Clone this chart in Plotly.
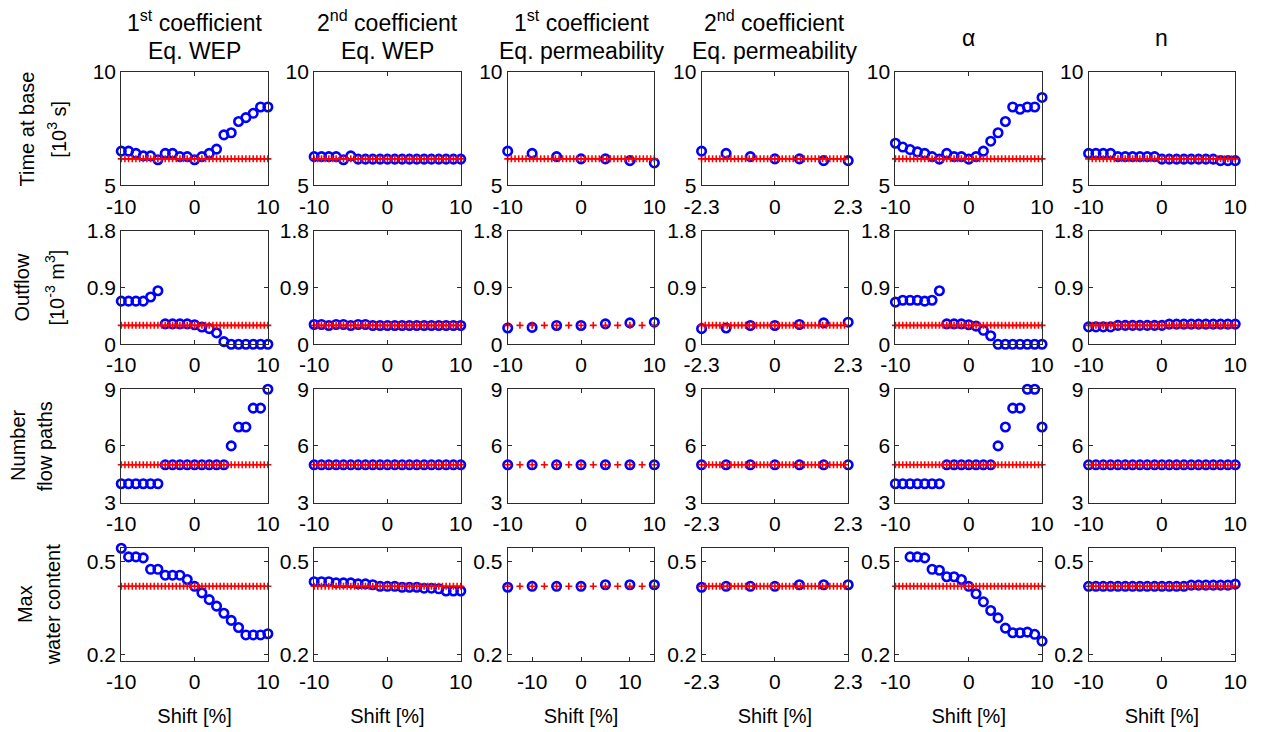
import plotly.graph_objects as go

W, H = 1277, 732
FONT = "Liberation Sans, Arial, Helvetica, sans-serif"

# ---- column / row labels -------------------------------------------------
col_titles = [
    ["1<sup>st</sup> coefficient", "Eq. WEP"],
    ["2<sup>nd</sup> coefficient", "Eq. WEP"],
    ["1<sup>st</sup> coefficient", "Eq. permeability"],
    ["2<sup>nd</sup> coefficient", "Eq. permeability"],
    ["α"],
    ["n"],
]
row_titles = [
    ["Time at base", "[10<sup>3</sup> s]"],
    ["Outflow", "[10<sup>-3</sup> m<sup>3</sup>]"],
    ["Number", "flow paths"],
    ["Max", "water content"],
]
# horizontal centre (px) of the two lines of each row label
row_title_x = [[27, 58], [22, 56], [18, 46], [25, 54]]
x_title = "Shift [%]"

# ---- y axes per row -------------------------------------------------------
y_ranges = [[5, 10], [0, 1.8], [3, 9], [0.18, 0.546]]
y_ticks = [[5, 10], [0, 0.9, 1.8], [3, 6, 9], [0.2, 0.5]]
y_ticktext = [["5", "10"], ["0", "0.9", "1.8"], ["3", "6", "9"], ["0.2", "0.5"]]

# reference (unshifted) value of each output, drawn in red
baseline = [6.17, 0.30, 5, 0.421]

# ---- x axes --------------------------------------------------------------
shift_pct = [-10, -9, -8, -7, -6, -5, -4, -3, -2, -1, 0,
             1, 2, 3, 4, 5, 6, 7, 8, 9, 10]
shift_perm1 = [-10, -6.67, -3.33, 0, 3.33, 6.67, 10]
shift_perm1_wide = [-15, -10, -5, 0, 5, 10, 15]
shift_perm2 = [-2.3, -1.53, -0.77, 0, 0.77, 1.53, 2.3]

ref_x_fine = [-10 + 0.5 * i for i in range(41)]
ref_x_perm1 = [-10, -8.33, -6.67, -5, -3.33, -1.67, 0,
               1.67, 3.33, 5, 6.67, 8.33, 10]
ref_x_perm1_wide = [-15, -12.5, -10, -7.5, -5, -2.5, 0,
                    2.5, 5, 7.5, 10, 12.5, 15]
ref_x_perm2 = [-2.3 + 0.115 * i for i in range(41)]

x_ticks_std = [-10, 0, 10]
x_ticktext_std = ["-10", "0", "10"]
x_ticks_perm2 = [-2.3, 0, 2.3]
x_ticktext_perm2 = ["-2.3", "0", "2.3"]

# ---- results: time at base [10^3 s] -------------------------------------
time_wep1 = [6.51, 6.51, 6.41, 6.30, 6.30, 6.13, 6.41, 6.41, 6.27, 6.27, 6.13,
             6.27, 6.41, 6.60, 7.23, 7.32, 7.82, 7.99, 8.18, 8.46, 8.46]
time_wep2 = [6.27, 6.27, 6.27, 6.27, 6.13, 6.30, 6.16, 6.16, 6.16, 6.16, 6.16,
             6.16, 6.16, 6.16, 6.16, 6.16, 6.16, 6.16, 6.16, 6.16, 6.16]
time_perm1 = [6.51, 6.41, 6.27, 6.17, 6.17, 6.09, 5.99]
time_perm2 = [6.51, 6.41, 6.27, 6.17, 6.17, 6.09, 6.09]
time_alpha = [6.86, 6.69, 6.58, 6.48, 6.41, 6.27, 6.16, 6.41, 6.27, 6.27, 6.16,
              6.27, 6.51, 6.95, 7.32, 7.82, 8.46, 8.36, 8.46, 8.46, 8.88]
time_n = [6.41, 6.41, 6.41, 6.41, 6.27, 6.27, 6.27, 6.27, 6.27, 6.27, 6.16,
          6.16, 6.16, 6.16, 6.16, 6.16, 6.16, 6.16, 6.09, 6.09, 6.09]

# ---- results: outflow [10^-3 m^3] ---------------------------------------
out_wep1 = [0.684, 0.684, 0.684, 0.684, 0.75, 0.849, 0.324, 0.324, 0.324, 0.324,
            0.309, 0.273, 0.247, 0.18, 0.041, 0.0, 0.0, 0.0, 0.0, 0.0, 0.0]
out_wep2 = [0.314, 0.314, 0.298, 0.314, 0.314, 0.298, 0.314, 0.314, 0.298, 0.298,
            0.298, 0.298, 0.298, 0.298, 0.298, 0.298, 0.298, 0.298, 0.298, 0.298, 0.298]
out_perm1 = [0.257, 0.267, 0.298, 0.298, 0.324, 0.339, 0.35]
out_perm2 = [0.247, 0.257, 0.298, 0.298, 0.314, 0.339, 0.35]
out_alpha = [0.669, 0.699, 0.699, 0.699, 0.684, 0.699, 0.849, 0.324, 0.324, 0.324,
             0.309, 0.288, 0.221, 0.134, 0.0, 0.0, 0.0, 0.0, 0.0, 0.0, 0.0]
out_n = [0.275, 0.275, 0.275, 0.275, 0.30, 0.30, 0.30, 0.30, 0.30, 0.30, 0.30,
         0.32, 0.32, 0.32, 0.32, 0.32, 0.32, 0.32, 0.32, 0.32, 0.32]

# ---- results: number of flow paths --------------------------------------
paths_wep1 = [4, 4, 4, 4, 4, 4, 5, 5, 5, 5, 5, 5, 5, 5, 5, 6, 7, 7, 8, 8, 9]
paths_wep2 = [5] * 21
paths_perm1 = [5, 5, 5, 5, 5, 5, 5]
paths_perm2 = [5, 5, 5, 5, 5, 5, 5]
paths_alpha = [4, 4, 4, 4, 4, 4, 4, 5, 5, 5, 5, 5, 5, 5, 6, 7, 8, 8, 9, 9, 7]
paths_n = [5] * 21

# ---- results: max water content -----------------------------------------
wc_wep1 = [0.544, 0.516, 0.516, 0.513, 0.476, 0.476, 0.457, 0.457, 0.457, 0.443,
           0.421, 0.40, 0.378, 0.357, 0.334, 0.311, 0.288, 0.264, 0.264, 0.264, 0.268]
wc_wep2 = [0.436, 0.436, 0.436, 0.432, 0.432, 0.432, 0.429, 0.429, 0.426, 0.421,
           0.421, 0.421, 0.418, 0.418, 0.418, 0.415, 0.415, 0.413, 0.406, 0.406, 0.406]
wc_perm1 = [0.418, 0.421, 0.421, 0.421, 0.426, 0.426, 0.426]
wc_perm2 = [0.418, 0.421, 0.421, 0.421, 0.426, 0.426, 0.426]
wc_alpha = [None, None, 0.516, 0.516, 0.513, 0.476, 0.473, 0.452, 0.452, 0.443,
            0.421, 0.397, 0.371, 0.343, 0.319, 0.286, 0.271, 0.271, 0.273, 0.266, 0.244]
wc_n = [0.421, 0.421, 0.421, 0.421, 0.421, 0.421, 0.421, 0.421, 0.421, 0.421, 0.421,
        0.421, 0.421, 0.421, 0.425, 0.425, 0.425, 0.425, 0.425, 0.425, 0.428]

results = [
    [time_wep1, time_wep2, time_perm1, time_perm2, time_alpha, time_n],
    [out_wep1, out_wep2, out_perm1, out_perm2, out_alpha, out_n],
    [paths_wep1, paths_wep2, paths_perm1, paths_perm2, paths_alpha, paths_n],
    [wc_wep1, wc_wep2, wc_perm1, wc_perm2, wc_alpha, wc_n],
]


def panel_x(r, c):
    """Shift values, reference x-grid, axis range and ticks for a panel."""
    if c == 2:
        if r == 3:
            return (shift_perm1_wide, ref_x_perm1_wide, [-15, 15],
                    x_ticks_std, x_ticktext_std)
        ref = ref_x_fine if r == 0 else ref_x_perm1
        return shift_perm1, ref, [-10, 10], x_ticks_std, x_ticktext_std
    if c == 3:
        return (shift_perm2, ref_x_perm2, [-2.3, 2.3],
                x_ticks_perm2, x_ticktext_perm2)
    return shift_pct, ref_x_fine, [-10, 10], x_ticks_std, x_ticktext_std


# ---- panel geometry (pixels) ---------------------------------------------
col_left = [106, 304, 502.7, 701.7, 900.7, 1099]
panel_w = 150.5
row_top = [62, 226, 389.5, 553]
panel_h = 117

AX_COLOR = "#2b2b2b"
fig = go.Figure()
layout = dict(
    width=W, height=H,
    margin=dict(l=0, r=0, t=0, b=0),
    paper_bgcolor="white", plot_bgcolor="white",
    showlegend=False,
    font=dict(family=FONT, size=20, color="black"),
)

for r in range(4):
    for c in range(6):
        k = r * 6 + c + 1
        xs, ref_x, xr, xt, xtt = panel_x(r, c)
        xa = "x" if k == 1 else f"x{k}"
        ya = "y" if k == 1 else f"y{k}"

        fig.add_trace(go.Scatter(
            x=xs, y=results[r][c], xaxis=xa, yaxis=ya, mode="markers",
            marker=dict(symbol="circle-open", size=8.5, color="#0000ff",
                        line=dict(width=2.6, color="#0000ff")),
            cliponaxis=False,
        ))
        fig.add_trace(go.Scatter(
            x=ref_x, y=[baseline[r]] * len(ref_x), xaxis=xa, yaxis=ya,
            mode="markers",
            marker=dict(symbol="cross-thin-open", size=5, color="#ff0000",
                        line=dict(width=1.6, color="#ff0000")),
            cliponaxis=False,
        ))

        x0 = col_left[c] / W
        x1 = (col_left[c] + panel_w) / W
        y1 = 1 - row_top[r] / H
        y0 = 1 - (row_top[r] + panel_h) / H
        common = dict(showline=True, linecolor=AX_COLOR, linewidth=1,
                      mirror="ticks", ticks="inside", ticklen=4,
                      tickcolor=AX_COLOR, showgrid=False, zeroline=False,
                      tickfont=dict(family=FONT, size=21, color="black"),
                      fixedrange=True)
        xaxis = dict(domain=[x0, x1], anchor=ya, range=xr,
                     tickmode="array", tickvals=xt, ticktext=xtt,
                     ticklabelstandoff=2, **common)
        if r == 3:
            xaxis["title"] = dict(text=x_title,
                                  font=dict(family=FONT, size=20), standoff=16)
        layout["xaxis" if k == 1 else f"xaxis{k}"] = xaxis
        layout["yaxis" if k == 1 else f"yaxis{k}"] = dict(
            domain=[y0, y1], anchor=xa, range=y_ranges[r],
            tickmode="array", tickvals=y_ticks[r], ticktext=y_ticktext[r],
            **common)

annotations = []
for c, lines in enumerate(col_titles):
    cx = (col_left[c] + panel_w / 2) / W
    ys = [9, 40] if len(lines) == 2 else [27]
    for txt, ypx in zip(lines, ys):
        annotations.append(dict(
            text=txt, x=cx, y=1 - ypx / H, xref="paper", yref="paper",
            xanchor="center", yanchor="middle", showarrow=False,
            font=dict(family=FONT, size=23, color="black")))
for r, lines in enumerate(row_titles):
    cy = 1 - (row_top[r] + panel_h / 2) / H
    for txt, xpx in zip(lines, row_title_x[r]):
        annotations.append(dict(
            text=txt, x=(xpx - 18) / W, y=cy, xref="paper", yref="paper",
            xanchor="center", yanchor="middle", showarrow=False,
            textangle=-90,
            font=dict(family=FONT, size=20, color="black")))
layout["annotations"] = annotations

fig.update_layout(**layout)
fig.write_html("out.html")
